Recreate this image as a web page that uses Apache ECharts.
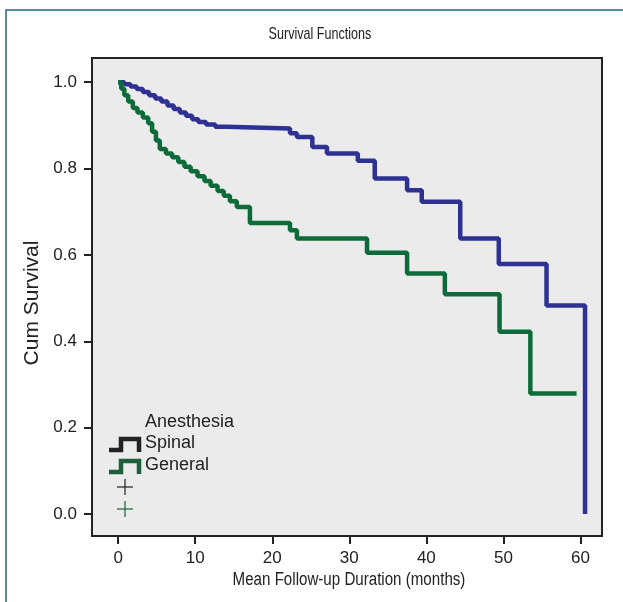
<!DOCTYPE html>
<html>
<head>
<meta charset="utf-8">
<script src="https://cdn.jsdelivr.net/npm/echarts@6/dist/echarts.min.js"></script>
<style>
html,body{margin:0;padding:0;background:#fff;}
#c{width:623px;height:602px;}
</style>
</head>
<body>
<div id="c"></div>
<script>
var chartTitle = 'Survival Functions';
var xAxisTitle = 'Mean Follow-up Duration (months)';
var yAxisTitle = 'Cum Survival';
var xTicks = [0, 10, 20, 30, 40, 50, 60];
var yTicks = [0, 0.2, 0.4, 0.6, 0.8, 1.0];
var legendTitle = 'Anesthesia';
var groupNames = ['Spinal', 'General'];

var spinalTime = [0, 0.8, 1.6, 2.4, 3.2, 4.0, 4.8, 5.6, 6.4, 7.2, 8.0, 8.8, 9.6, 10.4, 11.4, 12.6, 14.0, 22.3, 23.2, 25.2, 27.1, 31.1, 33.3, 37.5, 39.4, 44.4, 49.4, 55.6, 60.6];
var spinalSurv = [1.0, 0.995, 0.99, 0.984, 0.977, 0.97, 0.962, 0.955, 0.946, 0.938, 0.93, 0.922, 0.914, 0.908, 0.902, 0.897, 0.893, 0.882, 0.873, 0.85, 0.835, 0.818, 0.777, 0.75, 0.723, 0.638, 0.579, 0.483, 0.0];

var generalTime = [0, 0.4, 0.8, 1.3, 1.9, 2.5, 3.2, 3.9, 4.4, 4.9, 5.4, 6.2, 7.0, 7.8, 8.6, 9.4, 10.3, 11.2, 12.0, 12.9, 13.7, 14.5, 15.4, 17.1, 22.3, 23.2, 32.3, 37.5, 42.4, 49.5, 53.5, 59.5];
var generalSurv = [1.0, 0.985, 0.97, 0.955, 0.94, 0.93, 0.918, 0.905, 0.885, 0.865, 0.845, 0.835, 0.826, 0.815, 0.804, 0.794, 0.782, 0.771, 0.76, 0.748, 0.737, 0.724, 0.711, 0.674, 0.657, 0.638, 0.605, 0.557, 0.509, 0.422, 0.279, 0.279];

function pairs(t, s){ return t.map(function(v,i){ return [v, s[i]]; }); }

var FONT = '"Liberation Sans", Arial, sans-serif';
var TXT = '#222';
var chart = echarts.init(document.getElementById('c'), null, {renderer:'canvas'});

var legX = 109, legY = 422;
chart.setOption({
  animation: false,
  backgroundColor: '#ffffff',
  grid: {left: 92, right: 21, top: 58, bottom: 66, show: true, backgroundColor: '#ebebeb', borderColor: '#222', borderWidth: 2},
  xAxis: {
    type: 'value', min: -3.4, max: 62.8,
    axisLine: {show: true, onZero: false, lineStyle: {color: '#222', width: 2}},
    axisTick: {show: true, length: 8, lineStyle: {color: '#222', width: 2}, customValues: xTicks},
    axisLabel: {customValues: xTicks, margin: 14, fontFamily: FONT, fontSize: 17, color: TXT},
    splitLine: {show: false}
  },
  yAxis: {
    type: 'value', min: -0.051, max: 1.056,
    name: yAxisTitle, nameLocation: 'middle', nameGap: 43, nameRotate: 90,
    nameTextStyle: {fontFamily: FONT, fontSize: 21, color: TXT, padding: [0, 12, 0, 0]},
    axisLine: {show: true, onZero: false, lineStyle: {color: '#222', width: 2}},
    axisTick: {show: true, length: 8, lineStyle: {color: '#222', width: 2}, customValues: yTicks},
    axisLabel: {customValues: yTicks, margin: 15, fontFamily: FONT, fontSize: 17, color: TXT,
      formatter: function(v){ return v.toFixed(1); }},
    splitLine: {show: false}
  },
  series: [
    {name: groupNames[0], type: 'line', step: 'end', showSymbol: false, clip: true,
     data: pairs(spinalTime, spinalSurv), lineStyle: {color: '#2e3192', width: 4.5}},
    {name: groupNames[1], type: 'line', step: 'end', showSymbol: false, clip: true,
     data: pairs(generalTime, generalSurv), lineStyle: {color: '#0d6b3a', width: 4.5}}
  ],
  graphic: [
    {type: 'rect', shape: {x: 6, y: 10, width: 800, height: 800}, style: {fill: 'none', stroke: '#1f6b78', lineWidth: 1.5}, silent: true},
    {type: 'text', x: 320, y: 34, scaleX: 0.74, style: {text: chartTitle, font: '17px ' + FONT, fill: TXT, textAlign: 'center', textVerticalAlign: 'middle'}},
    {type: 'text', x: 349, y: 580, scaleX: 0.84, style: {text: xAxisTitle, font: '18px ' + FONT, fill: TXT, textAlign: 'center', textVerticalAlign: 'middle'}},
    {type: 'text', x: 145, y: legY, style: {text: legendTitle, font: '18px ' + FONT, fill: TXT, textAlign: 'left', textVerticalAlign: 'middle'}},
    {type: 'text', x: 145, y: legY + 21, style: {text: groupNames[0], font: '18px ' + FONT, fill: TXT, textAlign: 'left', textVerticalAlign: 'middle'}},
    {type: 'text', x: 145, y: legY + 43, style: {text: groupNames[1], font: '18px ' + FONT, fill: TXT, textAlign: 'left', textVerticalAlign: 'middle'}},
    {type: 'polyline', shape: {points: [[legX, legY + 28], [legX + 12, legY + 28], [legX + 12, legY + 17], [legX + 30, legY + 17], [legX + 30, legY + 30]]}, style: {stroke: '#222', lineWidth: 4.5, fill: 'none'}},
    {type: 'polyline', shape: {points: [[legX, legY + 50], [legX + 12, legY + 50], [legX + 12, legY + 39], [legX + 30, legY + 39], [legX + 30, legY + 52]]}, style: {stroke: '#1f5e3a', lineWidth: 4.5, fill: 'none'}},
    {type: 'line', shape: {x1: 117, y1: 487, x2: 133, y2: 487}, style: {stroke: '#222', lineWidth: 1.2}},
    {type: 'line', shape: {x1: 125, y1: 479, x2: 125, y2: 495}, style: {stroke: '#222', lineWidth: 1.2}},
    {type: 'line', shape: {x1: 117, y1: 509, x2: 133, y2: 509}, style: {stroke: '#1f5e3a', lineWidth: 1.2}},
    {type: 'line', shape: {x1: 125, y1: 501, x2: 125, y2: 517}, style: {stroke: '#1f5e3a', lineWidth: 1.2}}
  ]
});
</script>
</body>
</html>
